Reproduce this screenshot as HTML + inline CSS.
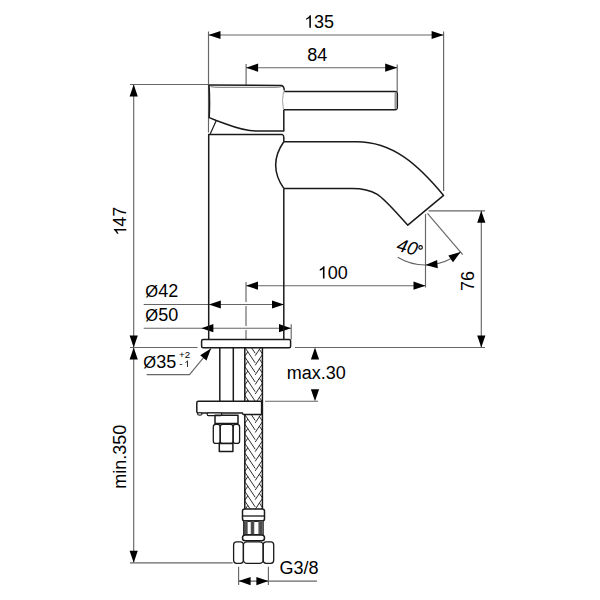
<!DOCTYPE html>
<html><head><meta charset="utf-8"><style>
html,body{margin:0;padding:0;background:#fff;width:600px;height:600px;overflow:hidden}
svg{display:block}
text{font-family:"Liberation Sans",sans-serif;fill:#000}
</style></head><body>
<svg width="600" height="600" viewBox="0 0 600 600">
<line x1="208.5" y1="31.5" x2="208.5" y2="132.5" stroke="#666" stroke-width="1.15" />
<line x1="443.6" y1="31.5" x2="443.6" y2="191" stroke="#666" stroke-width="1.15" />
<line x1="208.5" y1="35" x2="443.6" y2="35" stroke="#666" stroke-width="1.15" />
<polygon points="208.50,35.00 220.50,30.90 220.50,39.10" fill="#000"/>
<polygon points="443.60,35.00 431.60,39.10 431.60,30.90" fill="#000"/>
<path transform="translate(304.2,27.7) scale(0.008789,-0.008424)" d="M763,0 L583,0 L583,1147 C540,1106 483,1065 413,1024 C343,983 280,952 224,931 L224,1105 C325,1152 412,1210 487,1276 C562,1342 615,1407 646,1470 L763,1470 Z" fill="#000"/>
<text x="314.1107421875" y="27.7" font-size="18" >35</text>
<line x1="246.1" y1="64" x2="246.1" y2="85" stroke="#666" stroke-width="1.15" />
<line x1="397.2" y1="64.5" x2="397.2" y2="91.5" stroke="#666" stroke-width="1.15" />
<line x1="246.1" y1="67.7" x2="397.2" y2="67.7" stroke="#666" stroke-width="1.15" />
<polygon points="246.10,67.70 258.10,63.60 258.10,71.80" fill="#000"/>
<polygon points="397.20,67.70 385.20,71.80 385.20,63.60" fill="#000"/>
<text x="307.3" y="60.7" font-size="18" >84</text>
<line x1="130" y1="84.5" x2="208.5" y2="84.5" stroke="#666" stroke-width="1.15" />
<line x1="133.7" y1="84.5" x2="133.7" y2="347.5" stroke="#666" stroke-width="1.15" />
<polygon points="133.70,84.50 137.80,96.50 129.60,96.50" fill="#000"/>
<polygon points="133.70,347.50 129.60,335.50 137.80,335.50" fill="#000"/>
<path transform="translate(126.3,236) rotate(-90) translate(0.3,0) scale(0.008789,-0.008424)" d="M763,0 L583,0 L583,1147 C540,1106 483,1065 413,1024 C343,983 280,952 224,931 L224,1105 C325,1152 412,1210 487,1276 C562,1342 615,1407 646,1470 L763,1470 Z" fill="#000"/>
<text transform="translate(126.3,236) rotate(-90)" x="9.311" font-size="18">47</text>
<line x1="130" y1="347.5" x2="197.5" y2="347.5" stroke="#666" stroke-width="1.15" />
<line x1="133.7" y1="347.5" x2="133.7" y2="562.8" stroke="#666" stroke-width="1.15" />
<polygon points="133.70,347.50 137.80,359.50 129.60,359.50" fill="#000"/>
<polygon points="133.70,562.80 129.60,550.80 137.80,550.80" fill="#000"/>
<line x1="130" y1="562.9" x2="232.7" y2="562.9" stroke="#666" stroke-width="1.15" />
<text transform="translate(126.3,488.7) rotate(-90)" font-size="18">min.350</text>
<line x1="143.7" y1="304.5" x2="284" y2="304.5" stroke="#666" stroke-width="1.15" />
<polygon points="208.80,304.50 220.80,300.40 220.80,308.60" fill="#000"/>
<polygon points="284.00,304.50 272.00,308.60 272.00,300.40" fill="#000"/>
<text x="144.3" y="297.4" font-size="18" ><tspan font-size="16.5" dx="1">Ø</tspan><tspan dx="0.2">42</tspan></text>
<line x1="143.7" y1="328.2" x2="291" y2="328.2" stroke="#666" stroke-width="1.15" />
<polygon points="201.40,328.20 213.40,324.10 213.40,332.30" fill="#000"/>
<polygon points="291.00,328.20 279.00,332.30 279.00,324.10" fill="#000"/>
<line x1="291.2" y1="324.3" x2="291.2" y2="339.5" stroke="#666" stroke-width="1.15" />
<text x="144.3" y="321.2" font-size="18" ><tspan font-size="16.5" dx="1">Ø</tspan><tspan dx="0.2">50</tspan></text>
<polyline points="146.7,374.6 189.5,374.6 211,348.6" fill="none" stroke="#666" stroke-width="1.15"/>
<polygon points="211.00,348.60 206.51,360.46 200.19,355.23" fill="#000"/>
<text x="142.3" y="367.8" font-size="18" ><tspan font-size="16.5" dx="1">Ø</tspan><tspan dx="0.2">35</tspan></text>
<text x="179.1" y="357.9" font-size="9.7" >+2</text>
<text x="179.3" y="367" font-size="9.6" >-</text>
<path transform="translate(184.3,367) scale(0.004590,-0.004399)" d="M763,0 L583,0 L583,1147 C540,1106 483,1065 413,1024 C343,983 280,952 224,931 L224,1105 C325,1152 412,1210 487,1276 C562,1342 615,1407 646,1470 L763,1470 Z" fill="#000"/>
<line x1="295" y1="347.5" x2="485" y2="347.5" stroke="#666" stroke-width="1.15" />
<polygon points="315.00,347.50 319.10,359.50 310.90,359.50" fill="#000"/>
<polygon points="315.00,401.20 310.90,389.20 319.10,389.20" fill="#000"/>
<line x1="265" y1="401.2" x2="318" y2="401.2" stroke="#666" stroke-width="1.15" />
<text x="286.8" y="378.6" font-size="18" >max.30</text>
<line x1="238.6" y1="566.7" x2="238.6" y2="585" stroke="#666" stroke-width="1.15" />
<line x1="268.4" y1="566.7" x2="268.4" y2="585" stroke="#666" stroke-width="1.15" />
<line x1="238.6" y1="581.1" x2="317" y2="581.1" stroke="#666" stroke-width="1.15" />
<polygon points="238.60,581.10 250.60,577.00 250.60,585.20" fill="#000"/>
<polygon points="268.40,581.10 256.40,585.20 256.40,577.00" fill="#000"/>
<text x="279.5" y="573.8" font-size="18" >G3/8</text>
<line x1="246" y1="285.7" x2="425.5" y2="285.7" stroke="#666" stroke-width="1.15" />
<polygon points="246.00,285.70 258.00,281.60 258.00,289.80" fill="#000"/>
<polygon points="425.50,285.70 413.50,289.80 413.50,281.60" fill="#000"/>
<line x1="425.5" y1="214" x2="425.5" y2="287.5" stroke="#666" stroke-width="1.15" />
<line x1="246" y1="282" x2="246" y2="339.5" stroke="#666" stroke-width="1.15" stroke-dasharray="20,4"/>
<path transform="translate(317.8,278.6) scale(0.008789,-0.008424)" d="M763,0 L583,0 L583,1147 C540,1106 483,1065 413,1024 C343,983 280,952 224,931 L224,1105 C325,1152 412,1210 487,1276 C562,1342 615,1407 646,1470 L763,1470 Z" fill="#000"/>
<text x="327.71074218750005" y="278.6" font-size="18" >00</text>
<line x1="428.5" y1="210.8" x2="485" y2="210.8" stroke="#666" stroke-width="1.15" />
<line x1="481.3" y1="210.8" x2="481.3" y2="347.5" stroke="#666" stroke-width="1.15" />
<polygon points="481.30,210.80 485.40,222.80 477.20,222.80" fill="#000"/>
<polygon points="481.30,347.50 477.20,335.50 485.40,335.50" fill="#000"/>
<text transform="translate(474,291) rotate(-90)" font-size="18">76</text>
<line x1="427.44834414499053" y1="213.2812178968001" x2="462.71337316931954" y2="254.57126182888177" stroke="#666" stroke-width="1.15" />
<path d="M397.69,257.29 A54,54 0 0 0 460.57,252.06" fill="none" stroke="#666" stroke-width="1.15"/>
<polygon points="425.50,265.00 437.13,259.96 437.79,268.13" fill="#000"/>
<polygon points="460.57,252.06 453.00,262.24 448.36,255.48" fill="#000"/>
<text transform="translate(395.8,250.4) rotate(15)" font-size="18.5" font-style="italic">40</text>
<circle cx="420.6" cy="247.4" r="1.75" fill="none" stroke="#000" stroke-width="1.1"/>
<path d="M209,84.9 L281.5,85.6 Q284,86.1 284.3,90.5" fill="none" stroke="#1a1a1a" stroke-width="1.5" stroke-linejoin="round"/>
<path d="M210.5,86.6 Q213,87.3 220,87.3 L275,87.3 Q280.5,87.3 282,86.3" fill="none" stroke="#777" stroke-width="1"/>
<path d="M209,84.9 Q210,101 209.2,117.6 L216.3,120.5 C228,124.4 241,130.9 256,131 L283.8,131 L283.8,110" fill="none" stroke="#1a1a1a" stroke-width="1.5" stroke-linejoin="round"/>
<path d="M216.3,120.5 L210.2,134" fill="none" stroke="#1a1a1a" stroke-width="1.2" stroke-linejoin="round"/>
<path d="M283.5,91.5 Q281.5,100.5 283.5,109.7" fill="none" stroke="#999" stroke-width="0.9"/>
<path d="M284.3,91.6 L395,91.6 Q397.3,91.6 397.3,94 L397.3,107.3 Q397.3,109.7 395,109.7 L283.8,109.7" fill="none" stroke="#1a1a1a" stroke-width="1.5" stroke-linejoin="round"/>
<rect x="394.5" y="92.5" width="2.5" height="16.3" fill="#999"/>
<path d="M208.7,339.5 L208.7,134.6 L282.5,134.6 Q283.8,135 283.8,137.5 L283.8,141.7" fill="none" stroke="#1a1a1a" stroke-width="1.5" stroke-linejoin="round"/>
<path d="M283.8,188.4 L283.8,339.5" fill="none" stroke="#1a1a1a" stroke-width="1.5" stroke-linejoin="round"/>
<path d="M283.8,141.7 L356.6,141.7 C392.5,141.7 417.7,164.2 443.6,195.4 L407.8,225.2 C381.4,196.5 377.7,188.4 351.9,188.4 L283.8,188.4" fill="none" stroke="#1a1a1a" stroke-width="1.5" stroke-linejoin="round"/>
<path d="M283.8,141.7 Q267.5,165 283.8,188.4" fill="none" stroke="#1a1a1a" stroke-width="1.5" stroke-linejoin="round"/>
<rect x="201.6" y="339.6" width="89" height="8.2" rx="1.5" fill="none" stroke="#1a1a1a" stroke-width="1.5" stroke-linejoin="round"/>
<line x1="219.8" y1="347.8" x2="219.8" y2="401.3" stroke="#1a1a1a" stroke-width="1.5" />
<line x1="233.3" y1="347.8" x2="233.3" y2="401.3" stroke="#1a1a1a" stroke-width="1.5" />
<clipPath id="cp347"><rect x="244.8" y="347.8" width="17.6" height="161.2"/></clipPath>
<path d="M244.6,327.80 L255.20,343.70 M262.6,325.40 L255.20,336.50 M247.80,332.60 L244.60,337.40 M259.40,330.20 L262.60,335.00 M244.6,337.40 L255.20,353.30 M262.6,335.00 L255.20,346.10 M247.80,342.20 L244.60,347.00 M259.40,339.80 L262.60,344.60 M244.6,347.00 L255.20,362.90 M262.6,344.60 L255.20,355.70 M247.80,351.80 L244.60,356.60 M259.40,349.40 L262.60,354.20 M244.6,356.60 L255.20,372.50 M262.6,354.20 L255.20,365.30 M247.80,361.40 L244.60,366.20 M259.40,359.00 L262.60,363.80 M244.6,366.20 L255.20,382.10 M262.6,363.80 L255.20,374.90 M247.80,371.00 L244.60,375.80 M259.40,368.60 L262.60,373.40 M244.6,375.80 L255.20,391.70 M262.6,373.40 L255.20,384.50 M247.80,380.60 L244.60,385.40 M259.40,378.20 L262.60,383.00 M244.6,385.40 L255.20,401.30 M262.6,383.00 L255.20,394.10 M247.80,390.20 L244.60,395.00 M259.40,387.80 L262.60,392.60 M244.6,395.00 L255.20,410.90 M262.6,392.60 L255.20,403.70 M247.80,399.80 L244.60,404.60 M259.40,397.40 L262.60,402.20 M244.6,404.60 L255.20,420.50 M262.6,402.20 L255.20,413.30 M247.80,409.40 L244.60,414.20 M259.40,407.00 L262.60,411.80 M244.6,414.20 L255.20,430.10 M262.6,411.80 L255.20,422.90 M247.80,419.00 L244.60,423.80 M259.40,416.60 L262.60,421.40 M244.6,423.80 L255.20,439.70 M262.6,421.40 L255.20,432.50 M247.80,428.60 L244.60,433.40 M259.40,426.20 L262.60,431.00 M244.6,433.40 L255.20,449.30 M262.6,431.00 L255.20,442.10 M247.80,438.20 L244.60,443.00 M259.40,435.80 L262.60,440.60 M244.6,443.00 L255.20,458.90 M262.6,440.60 L255.20,451.70 M247.80,447.80 L244.60,452.60 M259.40,445.40 L262.60,450.20 M244.6,452.60 L255.20,468.50 M262.6,450.20 L255.20,461.30 M247.80,457.40 L244.60,462.20 M259.40,455.00 L262.60,459.80 M244.6,462.20 L255.20,478.10 M262.6,459.80 L255.20,470.90 M247.80,467.00 L244.60,471.80 M259.40,464.60 L262.60,469.40 M244.6,471.80 L255.20,487.70 M262.6,469.40 L255.20,480.50 M247.80,476.60 L244.60,481.40 M259.40,474.20 L262.60,479.00 M244.6,481.40 L255.20,497.30 M262.6,479.00 L255.20,490.10 M247.80,486.20 L244.60,491.00 M259.40,483.80 L262.60,488.60 M244.6,491.00 L255.20,506.90 M262.6,488.60 L255.20,499.70 M247.80,495.80 L244.60,500.60 M259.40,493.40 L262.60,498.20 M244.6,500.60 L255.20,516.50 M262.6,498.20 L255.20,509.30 M247.80,505.40 L244.60,510.20 M259.40,503.00 L262.60,507.80 M244.6,510.20 L255.20,526.10 M262.6,507.80 L255.20,518.90 M247.80,515.00 L244.60,519.80 M259.40,512.60 L262.60,517.40 " clip-path="url(#cp347)" fill="none" stroke="#222" stroke-width="0.95"/>
<line x1="244.8" y1="347.8" x2="244.8" y2="509" stroke="#1a1a1a" stroke-width="1.5" />
<line x1="262.4" y1="347.8" x2="262.4" y2="509" stroke="#1a1a1a" stroke-width="1.5" />
<path d="M198.3,401.3 L260.6,401.3 Q261.6,401.3 261.6,402.5 L261.6,414.5 L243.5,414.5 Q242.8,414.5 242.5,413 L198.3,413 Q196.8,413 196.8,411.5 L196.8,402.8 Q196.8,401.3 198.3,401.3 Z" fill="#fff" stroke="#1a1a1a" stroke-width="1.5" stroke-linejoin="round"/>
<rect x="207.2" y="413" width="14.6" height="2.6" rx="1.2" fill="#fff" stroke="#1a1a1a" stroke-width="1.2" stroke-linejoin="round"/>
<ellipse cx="199.8" cy="413.9" rx="2.3" ry="1.2" fill="#fff" stroke="#1a1a1a" stroke-width="1.1" stroke-linejoin="round"/>
<rect x="215" y="415.3" width="23" height="8.2" fill="none" stroke="#1a1a1a" stroke-width="1.5" stroke-linejoin="round"/>
<rect x="213.3" y="424.4" width="6.899999999999977" height="19.0" rx="2.5" fill="none" stroke="#1a1a1a" stroke-width="1.3" stroke-linejoin="round"/>
<rect x="233.1" y="424.4" width="6.5" height="19.0" rx="2.5" fill="none" stroke="#1a1a1a" stroke-width="1.3" stroke-linejoin="round"/>
<rect x="220.2" y="424.4" width="12.900000000000006" height="19.0" rx="2.5" fill="none" stroke="#1a1a1a" stroke-width="1.3" stroke-linejoin="round"/>
<rect x="219.3" y="443.4" width="13.6" height="8" fill="none" stroke="#1a1a1a" stroke-width="1.5" stroke-linejoin="round"/>
<rect x="242.5" y="509" width="22" height="12" rx="2.2" fill="#fff" stroke="#1a1a1a" stroke-width="1.5" stroke-linejoin="round"/>
<line x1="243" y1="516" x2="264" y2="516" stroke="#1a1a1a" stroke-width="1.3" />
<rect x="243.8" y="521" width="19.2" height="13.8" fill="none" stroke="#1a1a1a" stroke-width="1.5" stroke-linejoin="round"/>
<rect x="243.8" y="521" width="3.5999999999999943" height="13.8" fill="#6a6a6a"/>
<rect x="250.9" y="521" width="3.1999999999999886" height="13.8" fill="#6a6a6a"/>
<rect x="258.6" y="521" width="4.399999999999977" height="13.8" fill="#6a6a6a"/>
<line x1="244.6" y1="521.3" x2="244.6" y2="534.5" stroke="#222" stroke-width="0.5" />
<line x1="246.0" y1="521.3" x2="246.0" y2="534.5" stroke="#222" stroke-width="0.5" />
<line x1="247.2" y1="521.3" x2="247.2" y2="534.5" stroke="#222" stroke-width="0.5" />
<line x1="251.2" y1="521.3" x2="251.2" y2="534.5" stroke="#222" stroke-width="0.5" />
<line x1="252.5" y1="521.3" x2="252.5" y2="534.5" stroke="#222" stroke-width="0.5" />
<line x1="253.8" y1="521.3" x2="253.8" y2="534.5" stroke="#222" stroke-width="0.5" />
<line x1="259.0" y1="521.3" x2="259.0" y2="534.5" stroke="#222" stroke-width="0.5" />
<line x1="260.4" y1="521.3" x2="260.4" y2="534.5" stroke="#222" stroke-width="0.5" />
<line x1="261.7" y1="521.3" x2="261.7" y2="534.5" stroke="#222" stroke-width="0.5" />
<rect x="242.5" y="535" width="22" height="5.7" rx="2.8" fill="#fff" stroke="#1a1a1a" stroke-width="1.5" stroke-linejoin="round"/>
<rect x="233.6" y="541.9" width="9.800000000000011" height="21.399999999999977" rx="3" fill="none" stroke="#1a1a1a" stroke-width="1.3" stroke-linejoin="round"/>
<rect x="263.2" y="541.9" width="10.5" height="21.399999999999977" rx="3" fill="none" stroke="#1a1a1a" stroke-width="1.3" stroke-linejoin="round"/>
<rect x="243.4" y="541.9" width="19.799999999999983" height="21.399999999999977" rx="3.5" fill="none" stroke="#1a1a1a" stroke-width="1.3" stroke-linejoin="round"/>
</svg>
</body></html>
